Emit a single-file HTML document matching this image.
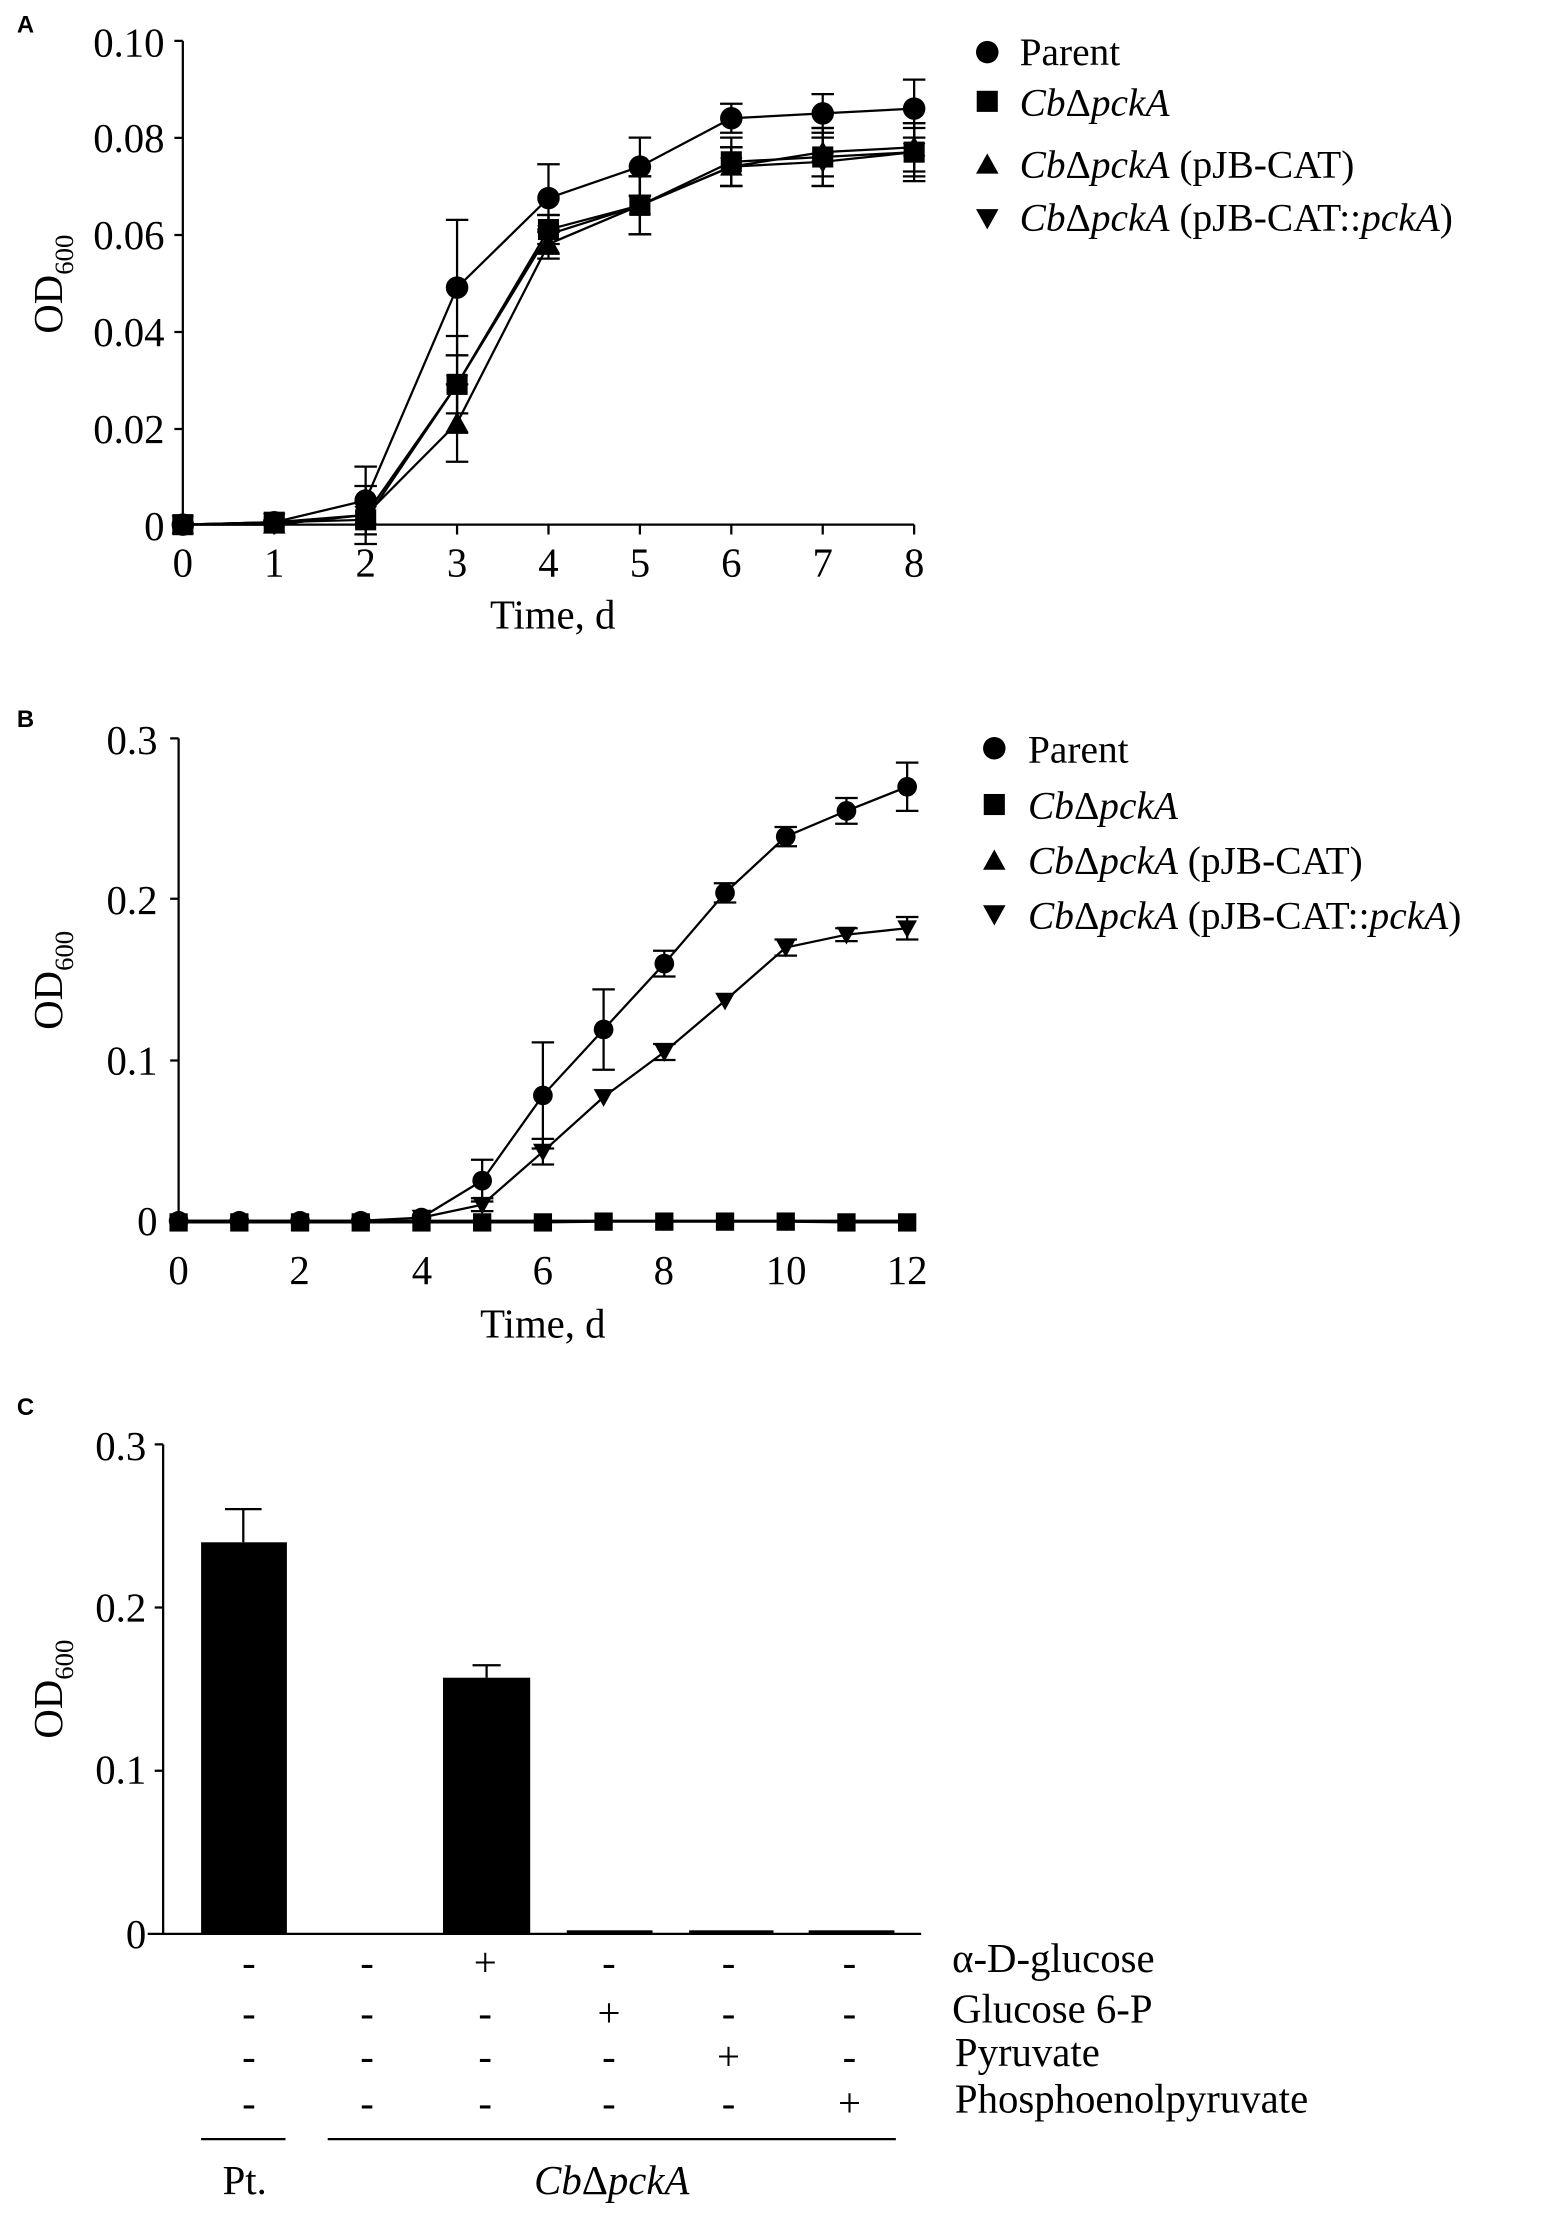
<!DOCTYPE html>
<html><head><meta charset="utf-8"><style>
html,body{margin:0;padding:0;background:#fff}
svg{display:block}
text{font-family:"Liberation Serif",serif;fill:#000}
.lab{font-family:"Liberation Sans",sans-serif;font-weight:bold;font-size:17px}
.tk{font-size:29px}
.lg{font-size:28px}
</style></head><body>
<svg id="s" width="1547" height="2218" viewBox="0 0 1100 1577" xmlns="http://www.w3.org/2000/svg">
<g stroke="#000" stroke-width="1.6" fill="none" id="axes">
<path d="M130,29 V373 H650"/>
<path d="M124,29H130M124,98H130M124,167H130M124,236H130M124,305H130M124,373H130"/>
<path d="M130,373V380M195,373V380M260,373V380M325,373V380M390,373V380M455,373V380M520,373V380M585,373V380M650,373V380"/>
<path d="M127,525 V868 H645"/>
<path d="M121,525H127M121,639H127M121,754H127M121,868H127"/>
<path d="M127,868V875M213,868V875M300,868V875M386,868V875M472,868V875M559,868V875M645,868V875"/>
<path d="M116,1027 V1375 M105,1375 H655"/>
<path d="M110,1027H116M110,1143H116M110,1259H116"/>
<path d="M143,1521 H203 M233,1521 H637"/>
</g>
<text class="lab" x="12" y="23">A</text>
<text class="lab" x="12" y="517">B</text>
<text class="lab" x="12" y="1006">C</text>
<g class="tk" text-anchor="end">
<text x="117" y="40">0.10</text><text x="117" y="108">0.08</text><text x="117" y="177">0.06</text>
<text x="117" y="246">0.04</text><text x="117" y="315">0.02</text><text x="117" y="384">0</text>
</g>
<g class="tk" text-anchor="middle">
<text x="130" y="410">0</text><text x="195" y="410">1</text><text x="260" y="410">2</text><text x="325" y="410">3</text><text x="390" y="410">4</text><text x="455" y="410">5</text><text x="520" y="410">6</text><text x="585" y="410">7</text><text x="650" y="410">8</text>
<text x="393" y="447">Time, d</text>
</g>
<text transform="translate(44,202) rotate(-90)" text-anchor="middle" class="tk">OD<tspan font-size="19" dy="8">600</tspan></text>
<g class="tk" text-anchor="end">
<text x="112" y="536">0.3</text><text x="112" y="650">0.2</text><text x="112" y="764">0.1</text><text x="112" y="878">0</text>
</g>
<g class="tk" text-anchor="middle">
<text x="127" y="913">0</text><text x="213" y="913">2</text><text x="300" y="913">4</text><text x="386" y="913">6</text><text x="472" y="913">8</text><text x="559" y="913">10</text><text x="645" y="913">12</text>
<text x="386" y="951">Time, d</text>
</g>
<text transform="translate(44,697) rotate(-90)" text-anchor="middle" class="tk">OD<tspan font-size="19" dy="8">600</tspan></text>
<g class="tk" text-anchor="end">
<text x="104" y="1038">0.3</text><text x="104" y="1153">0.2</text><text x="104" y="1268">0.1</text><text x="104" y="1385">0</text>
</g>
<text transform="translate(44,1201) rotate(-90)" text-anchor="middle" class="tk">OD<tspan font-size="19" dy="8">600</tspan></text>
<g class="tk" text-anchor="middle" id="signs"></g>
<g class="tk">
<text x="677" y="1402">α-D-glucose</text><text x="677" y="1438">Glucose 6-P</text>
<text x="679" y="1469">Pyruvate</text><text x="679" y="1502">Phosphoenolpyruvate</text>
</g>
<text class="tk" x="174" y="1560" text-anchor="middle">Pt.</text>
<text class="tk" x="435" y="1560" text-anchor="middle"><tspan font-style="italic">Cb</tspan>Δ<tspan font-style="italic">pckA</tspan></text>
<g class="lg">
<text x="725" y="46">Parent</text>
<text x="725" y="82"><tspan font-style="italic">Cb</tspan>Δ<tspan font-style="italic">pckA</tspan></text>
<text x="725" y="126"><tspan font-style="italic">Cb</tspan>Δ<tspan font-style="italic">pckA</tspan> (pJB-CAT)</text>
<text x="725" y="164"><tspan font-style="italic">Cb</tspan>Δ<tspan font-style="italic">pckA</tspan> (pJB-CAT::<tspan font-style="italic">pckA</tspan>)</text>
<text x="731" y="542">Parent</text>
<text x="731" y="582"><tspan font-style="italic">Cb</tspan>Δ<tspan font-style="italic">pckA</tspan></text>
<text x="731" y="621"><tspan font-style="italic">Cb</tspan>Δ<tspan font-style="italic">pckA</tspan> (pJB-CAT)</text>
<text x="731" y="660"><tspan font-style="italic">Cb</tspan>Δ<tspan font-style="italic">pckA</tspan> (pJB-CAT::<tspan font-style="italic">pckA</tspan>)</text>
</g>
<g id="d"></g>
</svg>
<script>
var NS="http://www.w3.org/2000/svg",d=document.getElementById("d");
function el(t,a){var e=document.createElementNS(NS,t);for(var k in a)e.setAttribute(k,a[k]);d.appendChild(e);return e;}
function mk(type,x,y,s){s=s||8;
 if(type=="c")el("circle",{cx:x,cy:y,r:s});
 else if(type=="s")el("rect",{x:x-s+0.5,y:y-s+0.5,width:2*s-1,height:2*s-1});
 else if(type=="t")el("path",{d:"M"+x+","+(y-s)+" L"+(x+s)+","+(y+s*0.8)+" L"+(x-s)+","+(y+s*0.8)+"Z"});
 else el("path",{d:"M"+x+","+(y+s)+" L"+(x+s)+","+(y-s*0.8)+" L"+(x-s)+","+(y-s*0.8)+"Z"});}
function series(pts,type,fx,fy,sz){var p="";pts.forEach(function(q,i){p+=(i?"L":"M")+fx(q[0])+","+fy(q[1]);});
 el("path",{d:p,fill:"none",stroke:"#000","stroke-width":1.6});
 pts.forEach(function(q){if(q[2]){var x=fx(q[0]),y1=fy(q[1]-q[2]),y2=fy(q[1]+q[2]);
  el("path",{d:"M"+x+","+y1+"V"+y2+"M"+(x-8)+","+y1+"H"+(x+8)+"M"+(x-8)+","+y2+"H"+(x+8),stroke:"#000","stroke-width":1.6,fill:"none"});}});
 pts.forEach(function(q){mk(type,fx(q[0]),fy(q[1]),sz);});}
var ax=function(t){return 130+t*65},ay=function(v){return 373-v*3440};
series([[0,0],[1,0.0005],[2,0.002,0.006],[3,0.029,0.006],[4,0.06,0.004],[5,0.066,0.006],[6,0.074,0.004],[7,0.075,0.005],[8,0.077,0.005]],"v",ax,ay);
series([[0,0],[1,0],[2,0.002],[3,0.021,0.008],[4,0.058,0.003],[5,0.066,0.006],[6,0.074,0.004],[7,0.077,0.005],[8,0.078,0.005]],"t",ax,ay);
series([[0,0],[1,0.0005],[2,0.001],[3,0.029,0.01],[4,0.061,0.003],[5,0.066,0.006],[6,0.075,0.005],[7,0.076,0.006],[8,0.077,0.006]],"s",ax,ay);
series([[0,0],[1,0.0005],[2,0.005,0.007],[3,0.049,0.014],[4,0.0675,0.007],[5,0.074,0.006],[6,0.084,0.003],[7,0.085,0.004],[8,0.086,0.006]],"c",ax,ay);
var bx=function(t){return 127+t*43.17},by=function(v){return 868-v*1143};
series([[4,0.002],[5,0.01,0.004],[6,0.043,0.008],[7,0.077],[8,0.105,0.005],[9,0.137],[10,0.17,0.005],[11,0.178,0.004],[12,0.182,0.007]],"v",bx,by,7);
series([[0,0],[1,0],[2,0],[3,0],[4,0.002],[5,0.025,0.013],[6,0.078,0.033],[7,0.119,0.025],[8,0.16,0.008],[9,0.204,0.006],[10,0.239,0.006],[11,0.255,0.008],[12,0.27,0.015]],"c",bx,by,7);
series([[0,-0.001],[1,-0.001],[2,-0.001],[3,-0.001],[4,-0.001],[5,-0.001],[6,-0.001],[7,-0.0005],[8,-0.0005],[9,-0.0005],[10,-0.0005],[11,-0.001],[12,-0.001]],"s",bx,by,7);
mk("c",702,37,8);mk("s",702,72,8);mk("t",702,117,8);mk("v",702,155,8);
mk("c",707,532,8);mk("s",707,572,8);mk("t",707,612,8);mk("v",707,650,8);
var cy=function(v){return 1375-v*1160};
el("rect",{x:143,y:cy(0.24),width:61,height:cy(0)-cy(0.24)});
el("path",{d:"M173,"+cy(0.24)+"V1073M160,1073H186",stroke:"#000","stroke-width":1.6,fill:"none"});
el("rect",{x:315,y:cy(0.157),width:62,height:cy(0)-cy(0.157)});
el("path",{d:"M346,"+cy(0.157)+"V1184M336,1184H356",stroke:"#000","stroke-width":1.6,fill:"none"});
[[403,464],[490,550],[575,636]].forEach(function(b){el("rect",{x:b[0],y:1372.5,width:b[1]-b[0],height:3});});
var sx=[177,261,345,433,518,604],ry=[1402,1438,1469,1502],sg=document.getElementById("signs");
ry.forEach(function(y,r){sx.forEach(function(x,c){var t=document.createElementNS(NS,"text");t.setAttribute("x",x);t.setAttribute("y",y+3);
 t.textContent=(r==c-2)?"+":"-";sg.appendChild(t);});});
</script>
</body></html>
